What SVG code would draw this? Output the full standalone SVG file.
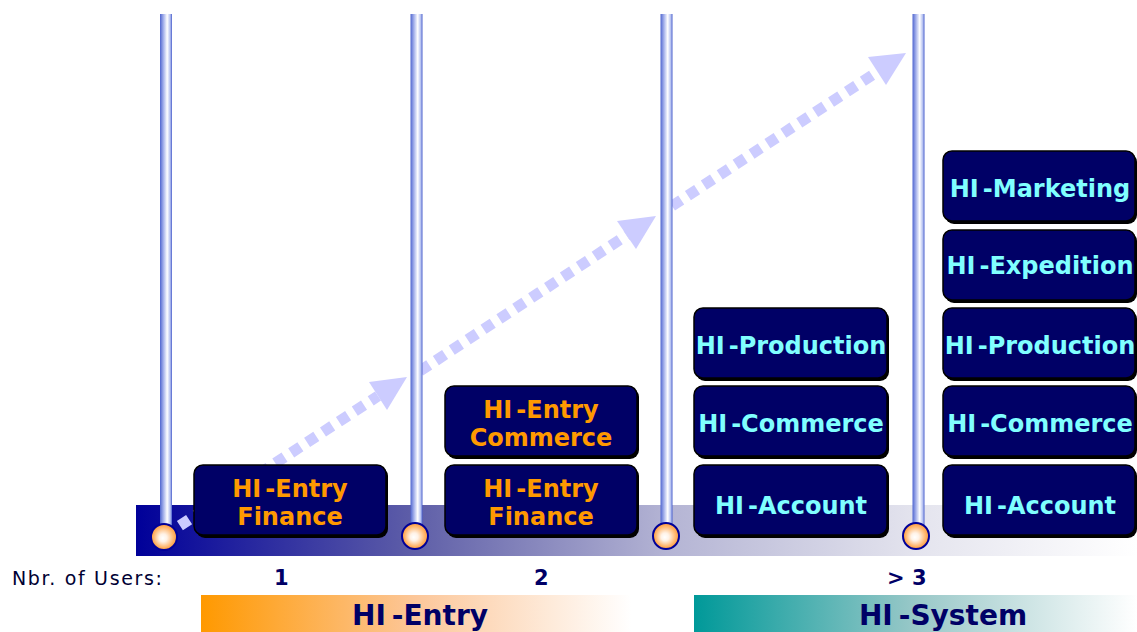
<svg xmlns="http://www.w3.org/2000/svg" width="1137" height="632" viewBox="0 0 1137 632">
<defs>
  <linearGradient id="band" x1="0" y1="0" x2="1" y2="0">
    <stop offset="0" stop-color="#000099"/>
    <stop offset="0.28" stop-color="#5f5fa8"/>
    <stop offset="0.53" stop-color="#b4b4d4"/>
    <stop offset="0.78" stop-color="#e4e4ee"/>
    <stop offset="1" stop-color="#ffffff"/>
  </linearGradient>
  <linearGradient id="pole" x1="0" y1="0" x2="1" y2="0">
    <stop offset="0" stop-color="#5066d0"/>
    <stop offset="0.3" stop-color="#a8b4ec"/>
    <stop offset="0.6" stop-color="#ffffff"/>
    <stop offset="0.85" stop-color="#b4c0f0"/>
    <stop offset="1" stop-color="#4a5fcc"/>
  </linearGradient>
  <radialGradient id="ball" cx="0.5" cy="0.5" r="0.5" fx="0.45" fy="0.55">
    <stop offset="0" stop-color="#ffffff"/>
    <stop offset="0.3" stop-color="#fff2e6"/>
    <stop offset="0.72" stop-color="#ffbb77"/>
    <stop offset="1" stop-color="#ff9933"/>
  </radialGradient>
  <linearGradient id="orangeBar" x1="0" y1="0" x2="1" y2="0">
    <stop offset="0" stop-color="#ff9900"/>
    <stop offset="0.5" stop-color="#fcc79a"/>
    <stop offset="1" stop-color="#ffffff"/>
  </linearGradient>
  <linearGradient id="tealBar" x1="0" y1="0" x2="1" y2="0">
    <stop offset="0" stop-color="#009999"/>
    <stop offset="0.5" stop-color="#99c8c8"/>
    <stop offset="1" stop-color="#ffffff"/>
  </linearGradient>
  <style>
    .box{fill:#000066;stroke:#000000;stroke-width:1.5}
    .shadow{fill:#000000}
    .org{font-family:"DejaVu Sans",Verdana,sans-serif;font-weight:bold;font-size:24px;fill:#ff9900;text-anchor:middle}
    .cyan{font-family:"DejaVu Sans",Verdana,sans-serif;font-weight:bold;font-size:24px;fill:#80ffff;text-anchor:middle}
    .shaft{stroke:#ccccff;stroke-width:11;stroke-dasharray:11 8;fill:none}
    .head{fill:#ccccff}
    .pole{fill:url(#pole)}
    .ball{fill:url(#ball);stroke:#000099;stroke-width:2}
    .num{font-family:"DejaVu Sans",Verdana,sans-serif;font-weight:bold;font-size:21px;fill:#000066}
    .big{font-family:"DejaVu Sans",Verdana,sans-serif;font-weight:bold;font-size:28px;fill:#000066;text-anchor:middle}
  </style>
</defs>

<rect x="136" y="505" width="1001" height="51" fill="url(#band)"/>

<g id="connectors">
  <line class="shaft" x1="164" y1="536" x2="378" y2="396"/>
  <polygon class="head" points="407,377 369,382 387,410"/>
  <line class="shaft" x1="420" y1="371" x2="627" y2="235"/>
  <polygon class="head" points="656,216 617,221 636,249"/>
  <line class="shaft" x1="672" y1="206" x2="877" y2="72"/>
  <polygon class="head" points="906,53 868,57 886,85"/>
</g>

<g id="poles">
  <rect class="pole" x="160" y="14" width="12" height="512"/>
  <rect class="pole" x="410.5" y="14" width="12" height="512"/>
  <rect class="pole" x="660.5" y="14" width="12" height="512"/>
  <rect class="pole" x="912.5" y="14" width="12" height="512"/>
  <circle class="ball" cx="164" cy="537" r="13"/>
  <circle class="ball" cx="415" cy="536" r="13"/>
  <circle class="ball" cx="666" cy="536" r="13"/>
  <circle class="ball" cx="916" cy="536" r="13"/>
</g>

<g id="entry-finance-1">
  <rect class="shadow" x="196" y="467" width="192" height="71" rx="9"/>
  <rect class="box" x="194" y="465" width="192" height="70" rx="9"/>
  <text class="org" x="290" y="497"><tspan>HI</tspan><tspan dx="4">-Entry</tspan></text>
  <text class="org" x="290" y="525">Finance</text>
</g>

<g id="entry-commerce-2">
  <rect class="shadow" x="447" y="388" width="192" height="71" rx="9"/>
  <rect class="box" x="445" y="386" width="192" height="70" rx="9"/>
  <text class="org" x="541" y="418"><tspan>HI</tspan><tspan dx="4">-Entry</tspan></text>
  <text class="org" x="541" y="446">Commerce</text>
</g>
<g id="entry-finance-2">
  <rect class="shadow" x="447" y="467" width="192" height="71" rx="9"/>
  <rect class="box" x="445" y="465" width="192" height="70" rx="9"/>
  <text class="org" x="541" y="497"><tspan>HI</tspan><tspan dx="4">-Entry</tspan></text>
  <text class="org" x="541" y="525">Finance</text>
</g>

<g id="production-3">
  <rect class="shadow" x="696" y="310" width="193" height="71" rx="9"/>
  <rect class="box" x="694" y="308" width="193" height="70" rx="9"/>
  <text class="cyan" x="791" y="354"><tspan>HI</tspan><tspan dx="4">-Production</tspan></text>
</g>
<g id="commerce-3">
  <rect class="shadow" x="696" y="388" width="193" height="71" rx="9"/>
  <rect class="box" x="694" y="386" width="193" height="70" rx="9"/>
  <text class="cyan" x="791" y="432"><tspan>HI</tspan><tspan dx="4">-Commerce</tspan></text>
</g>
<g id="account-3">
  <rect class="shadow" x="696" y="467" width="193" height="71" rx="9"/>
  <rect class="box" x="694" y="465" width="193" height="70" rx="9"/>
  <text class="cyan" x="791" y="514"><tspan>HI</tspan><tspan dx="4">-Account</tspan></text>
</g>

<g id="marketing-4">
  <rect class="shadow" x="945" y="153" width="192" height="71" rx="9"/>
  <rect class="box" x="943" y="151" width="192" height="70" rx="9"/>
  <text class="cyan" x="1040" y="197"><tspan>HI</tspan><tspan dx="4">-Marketing</tspan></text>
</g>
<g id="expedition-4">
  <rect class="shadow" x="945" y="232" width="192" height="71" rx="9"/>
  <rect class="box" x="943" y="230" width="192" height="70" rx="9"/>
  <text class="cyan" x="1040" y="274"><tspan>HI</tspan><tspan dx="4">-Expedition</tspan></text>
</g>
<g id="production-4">
  <rect class="shadow" x="945" y="310" width="192" height="71" rx="9"/>
  <rect class="box" x="943" y="308" width="192" height="70" rx="9"/>
  <text class="cyan" x="1040" y="354"><tspan>HI</tspan><tspan dx="4">-Production</tspan></text>
</g>
<g id="commerce-4">
  <rect class="shadow" x="945" y="388" width="192" height="71" rx="9"/>
  <rect class="box" x="943" y="386" width="192" height="70" rx="9"/>
  <text class="cyan" x="1040" y="432"><tspan>HI</tspan><tspan dx="4">-Commerce</tspan></text>
</g>
<g id="account-4">
  <rect class="shadow" x="945" y="467" width="192" height="71" rx="9"/>
  <rect class="box" x="943" y="465" width="192" height="70" rx="9"/>
  <text class="cyan" x="1040" y="514"><tspan>HI</tspan><tspan dx="4">-Account</tspan></text>
</g>

<g id="users-row">
  <text x="12" y="585" font-family="DejaVu Sans, Verdana, sans-serif" font-size="19" fill="#000033" textLength="150" lengthAdjust="spacing">Nbr. of Users:</text>
  <text class="num" x="274" y="585">1</text>
  <text class="num" x="534" y="585">2</text>
  <text class="num" x="887" y="585">&gt; 3</text>
</g>

<g id="hi-entry-bar">
  <rect x="201" y="595" width="430" height="37" fill="url(#orangeBar)"/>
  <text class="big" x="420" y="625"><tspan>HI</tspan><tspan dx="6">-Entry</tspan></text>
</g>
<g id="hi-system-bar">
  <rect x="694" y="595" width="443" height="37" fill="url(#tealBar)"/>
  <text class="big" x="943" y="625"><tspan>HI</tspan><tspan dx="6">-System</tspan></text>
</g>
</svg>
